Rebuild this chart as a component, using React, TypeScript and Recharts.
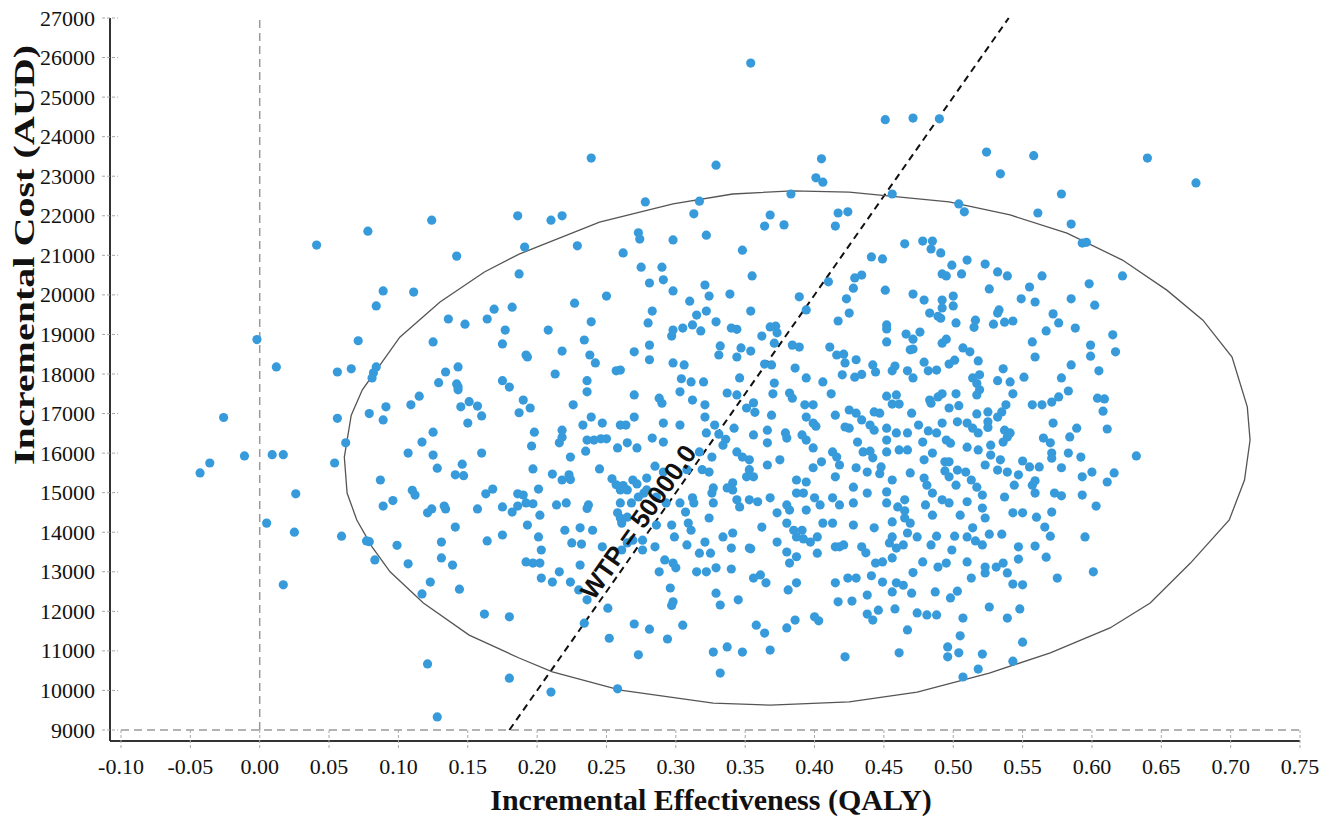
import React from "react";
import {
  ScatterChart,
  Scatter,
  XAxis,
  YAxis,
  ReferenceLine,
  ReferenceDot,
} from "recharts";

document.body.style.margin = "0";

// tick values
const xTicks = [-0.1, -0.05, 0, 0.05, 0.1, 0.15, 0.2, 0.25, 0.3, 0.35, 0.4, 0.45, 0.5, 0.55, 0.6, 0.65, 0.7, 0.75];
const yTicks = [9000, 10000, 11000, 12000, 13000, 14000, 15000, 16000, 17000, 18000, 19000, 20000, 21000, 22000, 23000, 24000, 25000, 26000, 27000];

// willingness-to-pay threshold (AUD per QALY)
const wtp = 50000;

// bootstrap replicates [incremental QALY, incremental cost]
const outerPoints = [
  [-0.043, 15500], [-0.036, 15750], [-0.026, 16900], [-0.011, 15930], [-0.002, 18870], [0.009, 15960],
  [0.012, 18180], [0.017, 15960], [0.005, 14230], [0.026, 14970], [0.025, 14000], [0.017, 12670],
  [0.041, 21260], [0.078, 21610], [0.124, 21890], [0.142, 20980], [0.089, 20100], [0.111, 20070],
  [0.084, 19720], [0.071, 18840], [0.056, 18050], [0.066, 18130], [0.056, 16880], [0.054, 15750],
  [0.059, 13900], [0.121, 10670], [0.128, 9330], [0.18, 10310], [0.21, 9960], [0.258, 10040],
  [0.162, 11930], [0.18, 11860], [0.354, 25860], [0.239, 23460], [0.329, 23280], [0.405, 23440],
  [0.401, 22960], [0.406, 22850], [0.451, 24430], [0.471, 24470], [0.49, 24450], [0.524, 23610],
  [0.558, 23520], [0.64, 23460], [0.534, 23060], [0.456, 22550], [0.578, 22550], [0.675, 22830],
];

const leftPoints = [
  [0.062, 16260], [0.077, 13780], [0.079, 13760], [0.083, 13300], [0.079, 17000], [0.091, 17170],
  [0.089, 16840], [0.087, 15320], [0.089, 14660], [0.096, 14800], [0.099, 13670], [0.107, 13200],
  [0.117, 12440], [0.123, 12740], [0.109, 17220], [0.115, 17440], [0.107, 16000], [0.117, 16280],
  [0.125, 16530], [0.125, 15950], [0.128, 15620], [0.11, 15060], [0.112, 14940], [0.121, 14490],
  [0.124, 14590], [0.133, 14660], [0.134, 14590], [0.131, 13750], [0.131, 13350], [0.139, 13170],
  [0.141, 14130], [0.144, 12560], [0.141, 15450], [0.147, 15430], [0.146, 15720], [0.16, 16000],
  [0.145, 17170], [0.151, 17300], [0.157, 17190], [0.16, 16940], [0.15, 16760], [0.143, 17600],
  [0.163, 14970], [0.168, 15090], [0.157, 14590], [0.175, 14640], [0.182, 14510], [0.164, 13780],
  [0.175, 13930], [0.186, 14970], [0.186, 14660], [0.084, 18180], [0.082, 18030], [0.081, 17900],
  [0.125, 18810], [0.136, 19390], [0.148, 19260], [0.164, 19390], [0.169, 19640], [0.182, 19690],
  [0.177, 19110], [0.175, 18760], [0.134, 18050], [0.143, 18180], [0.129, 17780], [0.142, 17750],
  [0.143, 17680], [0.175, 17830], [0.18, 17670], [0.186, 22000], [0.187, 20530],
];

const upperMidPoints = [
  [0.278, 22350], [0.317, 22370], [0.383, 22550], [0.21, 21890], [0.218, 22000], [0.191, 21210],
  [0.229, 21240], [0.313, 22050], [0.273, 21570], [0.274, 21410], [0.262, 21060], [0.298, 21390],
  [0.322, 21510], [0.364, 21740], [0.368, 22020], [0.378, 21770], [0.415, 21740], [0.417, 22070],
  [0.424, 22100], [0.348, 21130], [0.355, 20480], [0.275, 20700], [0.29, 20700], [0.291, 20380],
  [0.281, 20300], [0.298, 20100], [0.321, 20250], [0.324, 19970], [0.339, 20020], [0.31, 19840],
  [0.25, 19970], [0.227, 19790], [0.283, 19590], [0.315, 19490], [0.322, 19590], [0.354, 19590],
  [0.389, 19950], [0.41, 20330], [0.423, 19900], [0.394, 19620], [0.417, 19340], [0.208, 19110],
  [0.239, 19320], [0.28, 19290], [0.305, 19160], [0.298, 19110], [0.297, 18960], [0.312, 19240],
  [0.318, 19090], [0.329, 19320], [0.34, 19160], [0.344, 19130], [0.362, 18960], [0.368, 19190],
  [0.372, 19210], [0.373, 19040], [0.371, 18780], [0.234, 18860], [0.218, 18580], [0.238, 18480],
  [0.242, 18280], [0.192, 18480], [0.193, 18430], [0.213, 18000], [0.236, 17830], [0.257, 18080],
  [0.26, 18100], [0.27, 18560], [0.281, 18730], [0.281, 18360], [0.298, 18280], [0.306, 18230],
  [0.304, 17880], [0.311, 17800], [0.32, 17800], [0.332, 18710], [0.331, 18480], [0.344, 18430],
  [0.347, 18660], [0.354, 18580], [0.346, 17900], [0.364, 18250], [0.369, 18230], [0.386, 18150],
  [0.394, 17900], [0.371, 17770], [0.406, 17800], [0.411, 18680], [0.416, 18480], [0.421, 18500],
  [0.422, 18280], [0.42, 17980], [0.384, 18730], [0.389, 18680],
];

const upperRightPoints = [
  [0.504, 22300], [0.508, 22100], [0.561, 22070], [0.585, 21790], [0.593, 21310], [0.596, 21330],
  [0.622, 20480], [0.465, 21290], [0.478, 21360], [0.485, 21360], [0.484, 21160], [0.491, 21060],
  [0.441, 20960], [0.449, 20910], [0.499, 20750], [0.51, 20880], [0.523, 20780], [0.532, 20580],
  [0.539, 20480], [0.564, 20480], [0.598, 20280], [0.492, 20530], [0.495, 20480], [0.506, 20530],
  [0.429, 20430], [0.434, 20500], [0.428, 20170], [0.451, 20120], [0.471, 20020], [0.479, 19870],
  [0.492, 19870], [0.5, 19970], [0.5, 19720], [0.526, 20150], [0.555, 20200], [0.549, 19900],
  [0.559, 19820], [0.585, 19900], [0.602, 19740], [0.572, 19520], [0.576, 19290], [0.588, 19160],
  [0.567, 19090], [0.615, 18990], [0.557, 18810], [0.599, 18730], [0.617, 18560], [0.599, 18450],
  [0.559, 18430], [0.585, 18230], [0.605, 18080], [0.578, 17900], [0.483, 19540], [0.489, 19460],
  [0.492, 19670], [0.491, 19410], [0.502, 19290], [0.516, 19360], [0.515, 19180], [0.529, 19260],
  [0.533, 19620], [0.532, 19540], [0.537, 19310], [0.543, 19340], [0.452, 19240], [0.452, 19140],
  [0.452, 18810], [0.466, 19010], [0.471, 18880], [0.476, 19060], [0.492, 18780], [0.495, 18880],
  [0.507, 18660], [0.512, 18560], [0.518, 18330], [0.469, 18610], [0.471, 18630], [0.43, 18360],
  [0.442, 18230], [0.444, 18050], [0.456, 18080], [0.458, 18200], [0.467, 18080], [0.471, 17900],
  [0.479, 18300], [0.482, 18080], [0.488, 18100], [0.497, 18250], [0.501, 18350], [0.519, 17980],
  [0.514, 17900], [0.517, 17760], [0.536, 18130], [0.532, 17830], [0.541, 17800], [0.551, 17920],
  [0.425, 19540], [0.429, 17920], [0.434, 17990],
];

const centerPoints = [
  [0.236, 17550], [0.27, 17470], [0.288, 17390], [0.29, 17260], [0.303, 17550], [0.312, 17340],
  [0.321, 17220], [0.337, 17520], [0.344, 17470], [0.356, 17270], [0.37, 17500], [0.382, 17520],
  [0.384, 17390], [0.393, 17220], [0.399, 17220], [0.412, 17500], [0.19, 17340], [0.195, 17140],
  [0.187, 17020], [0.226, 17220], [0.239, 16910], [0.247, 16760], [0.233, 16710], [0.26, 16710],
  [0.264, 16710], [0.27, 16910], [0.291, 16760], [0.303, 16710], [0.321, 16910], [0.328, 16710],
  [0.351, 17140], [0.357, 17030], [0.369, 16960], [0.366, 16580], [0.342, 16630], [0.394, 16910],
  [0.399, 16760], [0.401, 16680], [0.415, 16960], [0.422, 16660], [0.198, 16530], [0.218, 16580],
  [0.216, 16260], [0.196, 16180], [0.218, 16400], [0.236, 16330], [0.241, 16330], [0.246, 16360],
  [0.25, 16360], [0.258, 16130], [0.265, 16260], [0.272, 16130], [0.283, 16380], [0.291, 16280],
  [0.224, 15900], [0.235, 16050], [0.322, 16510], [0.331, 16480], [0.334, 16200], [0.336, 16350],
  [0.344, 16030], [0.356, 16460], [0.366, 16260], [0.379, 16510], [0.38, 16380], [0.391, 16460],
  [0.394, 16330], [0.399, 16130], [0.413, 16030], [0.416, 15900], [0.197, 15600], [0.211, 15470],
  [0.218, 15320], [0.224, 15330], [0.223, 15450], [0.245, 15600], [0.254, 15350], [0.257, 15200],
  [0.26, 15070], [0.262, 15180], [0.265, 15070], [0.269, 15320], [0.272, 15220], [0.279, 15370],
  [0.279, 15070], [0.285, 15670], [0.291, 15520], [0.308, 15580], [0.317, 16030], [0.319, 15580],
  [0.324, 15520], [0.326, 15900], [0.327, 15120], [0.337, 15120], [0.341, 15250], [0.348, 15900],
  [0.353, 15830], [0.353, 15580], [0.356, 15400], [0.351, 15400], [0.366, 15700], [0.375, 15830],
  [0.387, 15320], [0.394, 15270], [0.405, 15780], [0.399, 15630], [0.415, 15400], [0.418, 15700],
  [0.201, 15090], [0.19, 14940], [0.192, 14740], [0.197, 14720], [0.214, 14690], [0.221, 14740],
  [0.237, 14690], [0.236, 14600], [0.26, 14740], [0.258, 14490], [0.26, 14360], [0.268, 14740],
  [0.273, 14890], [0.277, 14990], [0.286, 14890], [0.293, 14740], [0.303, 14740], [0.307, 14510],
  [0.312, 14870], [0.313, 14740], [0.327, 14740], [0.326, 14990], [0.341, 15070], [0.344, 14820],
  [0.346, 14640], [0.353, 14820], [0.359, 14770], [0.368, 14870], [0.373, 14490], [0.38, 14690],
  [0.382, 14560], [0.387, 14990], [0.392, 14990], [0.394, 14560], [0.4, 14870], [0.404, 14690],
  [0.413, 14870], [0.418, 14690], [0.193, 14180], [0.202, 14430], [0.201, 13880], [0.22, 14050],
  [0.231, 14110], [0.24, 14050], [0.225, 13730], [0.232, 13700], [0.265, 14380], [0.261, 14230],
  [0.265, 13730], [0.269, 13800], [0.276, 13800], [0.286, 14180], [0.297, 14180], [0.299, 13880],
  [0.309, 14230], [0.311, 14050], [0.308, 13680], [0.321, 13750], [0.324, 14360], [0.334, 13880],
  [0.341, 13980], [0.353, 13600], [0.362, 14130], [0.373, 13750], [0.38, 14230], [0.385, 14050],
  [0.387, 13880], [0.391, 14050], [0.392, 13830], [0.397, 13750], [0.402, 13880], [0.406, 14230],
  [0.413, 14230], [0.418, 13630], [0.421, 13680], [0.203, 13550], [0.192, 13250], [0.197, 13220],
  [0.202, 13220], [0.231, 13170], [0.247, 13630], [0.261, 13550], [0.276, 13550], [0.285, 13630],
  [0.292, 13300], [0.298, 13220], [0.3, 13100], [0.288, 13000], [0.317, 13470], [0.325, 13470],
  [0.315, 13000], [0.322, 13000], [0.329, 13100], [0.34, 13070], [0.34, 13600], [0.354, 13580],
  [0.38, 13500], [0.382, 13220], [0.387, 13380], [0.402, 13470], [0.415, 13630], [0.216, 13000],
  [0.203, 12840], [0.211, 12740], [0.224, 12740], [0.23, 12540], [0.236, 12290], [0.251, 12080],
  [0.296, 12590], [0.298, 12240], [0.297, 12150], [0.329, 12460], [0.332, 12160], [0.345, 12290],
  [0.356, 12840], [0.361, 12920], [0.365, 12720], [0.381, 12540], [0.387, 12720], [0.415, 12720],
  [0.417, 12240], [0.424, 12840], [0.234, 11700], [0.27, 11680], [0.281, 11550], [0.305, 11650],
  [0.252, 11320], [0.294, 11300], [0.358, 11650], [0.364, 11450], [0.38, 11580], [0.386, 11780],
  [0.4, 11860], [0.403, 11760], [0.273, 10900], [0.327, 10970], [0.337, 11100], [0.348, 10970],
  [0.368, 11020], [0.422, 10850], [0.332, 10440],
];

const lowerRightPoints = [
  [0.452, 17440], [0.459, 17470], [0.483, 17340], [0.489, 17420], [0.492, 17500], [0.502, 17500],
  [0.517, 17470], [0.519, 17600], [0.543, 17500], [0.557, 17220], [0.564, 17220], [0.571, 17290],
  [0.576, 17420], [0.583, 17570], [0.604, 17390], [0.609, 17370], [0.608, 17060], [0.456, 17240],
  [0.461, 17240], [0.484, 17260], [0.497, 17140], [0.504, 17200], [0.503, 16790], [0.538, 17220],
  [0.535, 17040], [0.532, 16910], [0.517, 16990], [0.525, 17040], [0.425, 17090], [0.43, 17010],
  [0.434, 16840], [0.443, 17040], [0.447, 17010], [0.47, 17010], [0.425, 16630], [0.44, 16710],
  [0.443, 16580], [0.452, 16630], [0.459, 16510], [0.467, 16510], [0.475, 16710], [0.482, 16560],
  [0.488, 16510], [0.492, 16760], [0.495, 16330], [0.498, 16250], [0.51, 16760], [0.514, 16630],
  [0.518, 16510], [0.525, 16790], [0.525, 16650], [0.537, 16580], [0.539, 16410], [0.541, 16510],
  [0.536, 16280], [0.572, 16760], [0.565, 16380], [0.57, 16260], [0.584, 16410], [0.589, 16630],
  [0.611, 16610], [0.431, 16280], [0.435, 16030], [0.44, 16050], [0.442, 15880], [0.452, 16330],
  [0.452, 16030], [0.461, 16080], [0.467, 16080], [0.478, 16280], [0.479, 15830], [0.485, 16000],
  [0.497, 15780], [0.51, 16150], [0.518, 16080], [0.523, 15700], [0.527, 16200], [0.527, 15950],
  [0.534, 15830], [0.55, 15800], [0.555, 15650], [0.562, 15650], [0.571, 16000], [0.571, 15870],
  [0.583, 16000], [0.592, 15900], [0.632, 15930], [0.43, 15630], [0.438, 15520], [0.448, 15650],
  [0.447, 15480], [0.456, 15320], [0.469, 15500], [0.479, 15370], [0.481, 15190], [0.494, 15780],
  [0.494, 15550], [0.497, 15400], [0.503, 15570], [0.509, 15520], [0.513, 15320], [0.517, 15140],
  [0.502, 15190], [0.532, 15570], [0.539, 15520], [0.544, 15190], [0.547, 15450], [0.557, 15190],
  [0.559, 15300], [0.578, 15630], [0.593, 15400], [0.6, 15520], [0.616, 15500], [0.611, 15270],
  [0.428, 15140], [0.438, 14990], [0.452, 15020], [0.452, 14740], [0.465, 14820], [0.485, 14990],
  [0.492, 14820], [0.497, 14740], [0.505, 14430], [0.51, 14770], [0.521, 14940], [0.521, 14610],
  [0.537, 14890], [0.559, 14990], [0.573, 14990], [0.578, 14920], [0.593, 14940], [0.603, 14660],
  [0.428, 14740], [0.48, 14690], [0.485, 14430], [0.46, 14640], [0.456, 14260], [0.465, 14360],
  [0.465, 14540], [0.428, 14180], [0.443, 14110], [0.469, 14230], [0.467, 13980], [0.474, 13880],
  [0.456, 13880], [0.454, 13730], [0.459, 13600], [0.464, 13680], [0.488, 13900], [0.484, 13680],
  [0.501, 13900], [0.51, 13880], [0.516, 13780], [0.521, 13680], [0.526, 13950], [0.514, 14110],
  [0.523, 14360], [0.535, 13950], [0.547, 13630], [0.543, 14490], [0.55, 14490], [0.56, 14380],
  [0.566, 14130], [0.57, 13900], [0.571, 14510], [0.559, 13650], [0.595, 13880], [0.434, 13630],
  [0.437, 13480], [0.444, 13220], [0.449, 13250], [0.456, 13350], [0.471, 12980], [0.478, 13250],
  [0.489, 13120], [0.495, 13220], [0.499, 13550], [0.51, 13250], [0.513, 12840], [0.523, 13120],
  [0.523, 12970], [0.531, 13120], [0.536, 13220], [0.539, 12970], [0.547, 13320], [0.567, 13370],
  [0.575, 12840], [0.601, 13000], [0.43, 12840], [0.441, 12900], [0.449, 12740], [0.459, 12720],
  [0.464, 12660], [0.427, 12260], [0.438, 12410], [0.456, 12490], [0.47, 12460], [0.487, 12490],
  [0.498, 12340], [0.503, 12510], [0.543, 12690], [0.55, 12670], [0.438, 11930], [0.442, 11780],
  [0.446, 12030], [0.458, 12060], [0.474, 11960], [0.481, 11910], [0.488, 11910], [0.507, 11830],
  [0.526, 12110], [0.539, 11830], [0.548, 12060], [0.467, 11530], [0.505, 11380], [0.461, 10950],
  [0.496, 11100], [0.496, 10850], [0.504, 10950], [0.521, 10920], [0.518, 10540], [0.55, 11220],
  [0.543, 10740], [0.507, 10340],
];

// 95% confidence ellipse outline, traced around
const ellipsePath = [
  [0.061, 15900], [0.063, 14990], [0.07, 14310], [0.081, 13630], [0.094, 13000], [0.118, 12210],
  [0.151, 11400], [0.187, 10820], [0.211, 10470], [0.26, 10010], [0.327, 9680], [0.368, 9630],
  [0.425, 9710], [0.474, 9960], [0.526, 10440], [0.57, 10950], [0.613, 11580], [0.642, 12210],
  [0.671, 13220], [0.699, 14310], [0.71, 15320], [0.714, 16330], [0.712, 17170], [0.701, 18430],
  [0.68, 19360], [0.654, 20120], [0.622, 20880], [0.582, 21560], [0.541, 22020], [0.497, 22350],
  [0.425, 22600], [0.384, 22630], [0.341, 22550], [0.298, 22300], [0.245, 21840], [0.187, 21030],
  [0.162, 20580], [0.13, 19820], [0.101, 18930], [0.074, 17600], [0.066, 16960], [0.061, 15900],
];

const toXY = (arr: number[][]) => arr.map(([x, y]) => ({ x, y }));

const scatterData = toXY([
  ...outerPoints,
  ...leftPoints,
  ...upperMidPoints,
  ...upperRightPoints,
  ...centerPoints,
  ...lowerRightPoints,
]);
const ellipseData = toXY(ellipsePath);

const SERIF = "'Liberation Serif', 'Times New Roman', serif";
const TICK_GREY = "#a8a8a8";

const XTick = (props: any) => {
  const { x, y, payload } = props;
  return (
    <g>
      <line x1={x} x2={x} y1={y - 11} y2={y + 8} stroke={TICK_GREY} strokeDasharray="3 2" />
      <text x={x} y={y + 25} textAnchor="middle" dominantBaseline="central" fontFamily={SERIF} fontSize={22} fill="#111">
        {Number(payload.value).toFixed(2)}
      </text>
    </g>
  );
};

const YTick = (props: any) => {
  const { x, y, payload } = props;
  return (
    <g>
      <line x1={x - 8} x2={x + 8} y1={y} y2={y} stroke={TICK_GREY} strokeDasharray="3 2" />
      <text x={x - 15} y={y} textAnchor="end" dominantBaseline="central" fontFamily={SERIF} fontSize={22} fill="#111">
        {payload.value}
      </text>
    </g>
  );
};

const xTitle = (props: any) => {
  const vb = props.viewBox;
  return (
    <text x={vb.x + vb.width / 2 + 6} y={vb.y + 58} textAnchor="middle" dominantBaseline="central" fontFamily={SERIF} fontWeight="bold" fontSize={30} fill="#111">
      Incremental Effectiveness (QALY)
    </text>
  );
};

// the y title is drawn stretched along its length, as in the source figure
const yTitle = (props: any) => {
  const vb = props.viewBox;
  const cx = vb.x + 23;
  const cy = vb.y + 237;
  return (
    <text
      x={cx}
      y={cy}
      transform={`rotate(-90 ${cx} ${cy})`}
      textAnchor="middle"
      dominantBaseline="central"
      fontFamily={SERIF}
      fontWeight="bold"
      fontSize={30}
      textLength={420}
      lengthAdjust="spacingAndGlyphs"
      fill="#111"
    >
      Incremental Cost (AUD)
    </text>
  );
};

const Dot = (props: any) => <circle cx={props.cx} cy={props.cy} r={4.6} fill="#379bdb" />;
const NoDot = () => <g />;

const WtpLabel = (props: any) => (
  <text
    x={props.cx}
    y={props.cy}
    transform={`rotate(-55 ${props.cx} ${props.cy})`}
    textAnchor="middle"
    dominantBaseline="central"
    fontFamily="'Liberation Sans', Arial, sans-serif"
    fontWeight="bold"
    fontSize={26}
    fill="#111"
  >
    WTP = 50000.0
  </text>
);

export default function App() {
  return (
    <ScatterChart width={1330} height={816} margin={{ top: 18, right: 30, bottom: 0, left: 0 }}>
      <XAxis
        type="number"
        dataKey="x"
        domain={[-0.1, 0.75]}
        ticks={xTicks}
        padding={{ left: 11, right: 0 }}
        height={75}
        tickSize={0}
        tickMargin={0}
        tick={<XTick />}
        axisLine={{ stroke: "#333", strokeWidth: 2 }}
        allowDataOverflow
        label={xTitle}
      />
      <YAxis
        type="number"
        dataKey="y"
        domain={[9000, 27000]}
        ticks={yTicks}
        padding={{ top: 0, bottom: 11 }}
        width={110}
        tickSize={0}
        tickMargin={0}
        tick={<YTick />}
        axisLine={{ stroke: "#333", strokeWidth: 2 }}
        allowDataOverflow
        label={yTitle}
      />
      <ReferenceLine segment={[{ x: 0, y: 9000 }, { x: 0, y: 27000 }]} stroke="#9a9a9a" strokeWidth={1.5} strokeDasharray="8 5" />
      <ReferenceLine segment={[{ x: -0.1, y: 9000 }, { x: 0.75, y: 9000 }]} stroke="#9a9a9a" strokeWidth={1.5} strokeDasharray="8 5" />
      <Scatter data={ellipseData} line={{ stroke: "#555", strokeWidth: 1.3 }} shape={NoDot} isAnimationActive={false} />
      <Scatter data={scatterData} shape={Dot} isAnimationActive={false} />
      <ReferenceLine
        segment={[{ x: 0.18, y: 0.18 * wtp }, { x: 0.54, y: 0.54 * wtp }]}
        stroke="#111"
        strokeWidth={2}
        strokeDasharray="7 5"
      />
      <ReferenceDot x={0.273} y={14260} shape={WtpLabel} />
    </ScatterChart>
  );
}
